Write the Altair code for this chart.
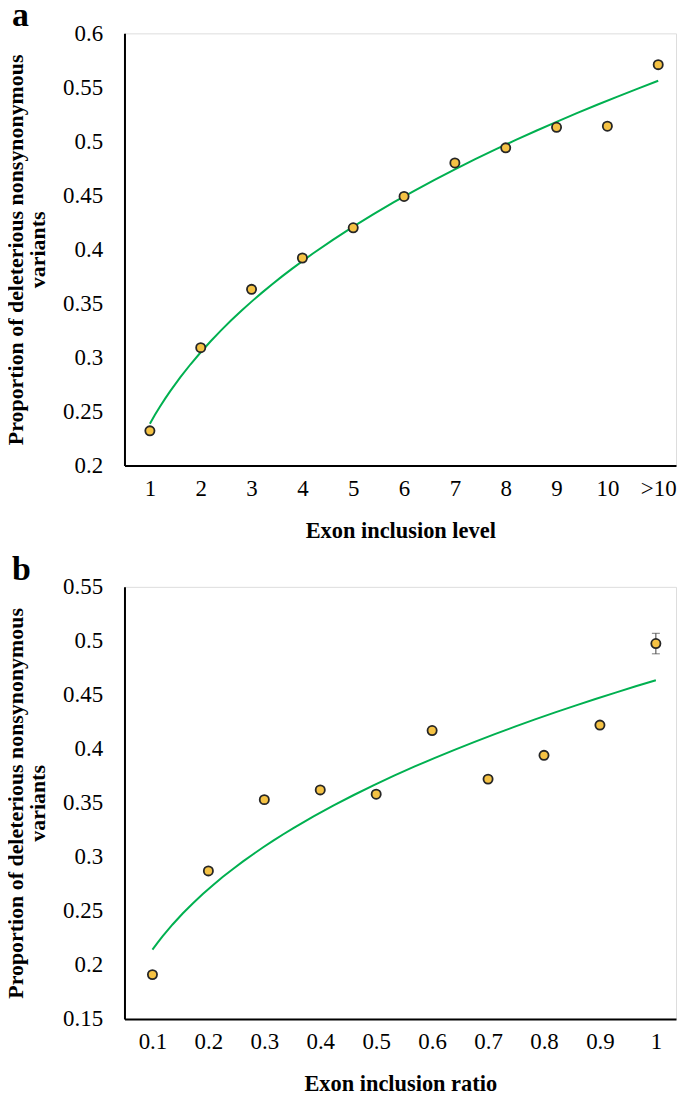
import json
import altair as alt
import pandas as pd

# ---------------- data ----------------
level_x = [1, 2, 3, 4, 5, 6, 7, 8, 9, 10, 11]
level_labels = ["1", "2", "3", "4", "5", "6", "7", "8", "9", "10", ">10"]
level_y = [0.232, 0.309, 0.363, 0.392, 0.420, 0.449, 0.480, 0.494, 0.513, 0.514, 0.571]
level_err = [0.003, 0.003, 0.003, 0.003, 0.003, 0.003, 0.003, 0.003, 0.003, 0.003, 0.003]

ratio_x = [0.1, 0.2, 0.3, 0.4, 0.5, 0.6, 0.7, 0.8, 0.9, 1.0]
ratio_y = [0.191, 0.287, 0.353, 0.362, 0.358, 0.417, 0.372, 0.394, 0.422, 0.4975]
ratio_err = [0.003, 0.003, 0.003, 0.003, 0.003, 0.003, 0.003, 0.003, 0.003, 0.0095]

y_ticks_a = [0.2, 0.25, 0.3, 0.35, 0.4, 0.45, 0.5, 0.55, 0.6]
y_ticks_b = [0.15, 0.2, 0.25, 0.3, 0.35, 0.4, 0.45, 0.5, 0.55]

y_title = ["Proportion of deleterious  nonsynonymous", "variants"]

df_a = pd.DataFrame({"x": level_x, "y": level_y, "err": level_err})
df_a["lo"] = df_a["y"] - df_a["err"]
df_a["hi"] = df_a["y"] + df_a["err"]
df_b = pd.DataFrame({"x": ratio_x, "y": ratio_y, "err": ratio_err})
df_b["lo"] = df_b["y"] - df_b["err"]
df_b["hi"] = df_b["y"] + df_b["err"]

# ---------------- style ----------------
FONT = "Liberation Serif"
GOLD = "#F5C244"
GREEN = "#00B050"
W = 554
H = 434


def make_panel(df, letter, xdomain, xticks, xlabel_expr, xtitle, ydomain, yticks):
    xaxis = alt.Axis(
        values=xticks, labelExpr=xlabel_expr, title=xtitle,
        ticks=False, grid=False, domainColor="black", domainWidth=2,
        labelFont=FONT, labelFontSize=23, labelColor="black", labelPadding=12,
        titleFont=FONT, titleFontSize=22.5, titleFontWeight="bold", titleColor="black",
        titlePadding=19,
    )
    yaxis = alt.Axis(
        values=yticks, format="~g", title=y_title,
        ticks=False, grid=False, domainColor="black", domainWidth=2,
        labelFont=FONT, labelFontSize=23, labelColor="black", labelPadding=22,
        titleFont=FONT, titleFontSize=22, titleFontWeight="bold", titleColor="black",
        titleAngle=270, titleBaseline="top", titleAlign="center",
        titleX=-119, titleY=H / 2, titleLineHeight=22,
    )
    xs = alt.Scale(domain=xdomain, nice=False, zero=False)
    ys = alt.Scale(domain=ydomain, nice=False, zero=False)
    X = alt.X("x:Q", scale=xs, axis=xaxis)
    base = alt.Chart(df)
    fit = base.transform_regression("x", "y", method="pow").mark_line(
        color=GREEN, strokeWidth=2
    ).encode(x=X, y=alt.Y("y:Q", scale=ys, axis=yaxis))
    bars = base.mark_errorbar(ticks=True, size=8, thickness=1, color="#404040").encode(
        x=X, y=alt.Y("lo:Q", scale=ys, axis=yaxis), y2="hi:Q"
    )
    pts = base.mark_circle(size=85, color=GOLD, opacity=1, stroke="#262626", strokeWidth=1.8).encode(
        x=X, y=alt.Y("y:Q", scale=ys, axis=yaxis)
    )
    return alt.layer(fit, bars, pts).properties(
        width=W, height=H,
        title=alt.Title(letter, anchor="start", frame="group", dx=-113, offset=-38,
                        baseline="alphabetic",
                        font=FONT, fontSize=34, fontWeight="bold", color="black"),
    )


labels_js = json.dumps(level_labels)
panel_a = make_panel(
    df_a, "a", [0.5, 11.35], level_x, f"{labels_js}[datum.value - 1]",
    "Exon inclusion level", [0.2, 0.6], y_ticks_a,
)
panel_b = make_panel(
    df_b, "b", [0.05, 1.036], ratio_x, "format(datum.value, '~g')",
    "Exon inclusion ratio", [0.15, 0.55], y_ticks_b,
)

chart = alt.vconcat(panel_a, panel_b, spacing=10).properties(
    padding={"left": -4, "top": -12, "right": 0, "bottom": 0}
).configure_view(strokeWidth=0).configure(background="white")

chart.save("out.html", embed_options={"renderer": "svg", "actions": False})
